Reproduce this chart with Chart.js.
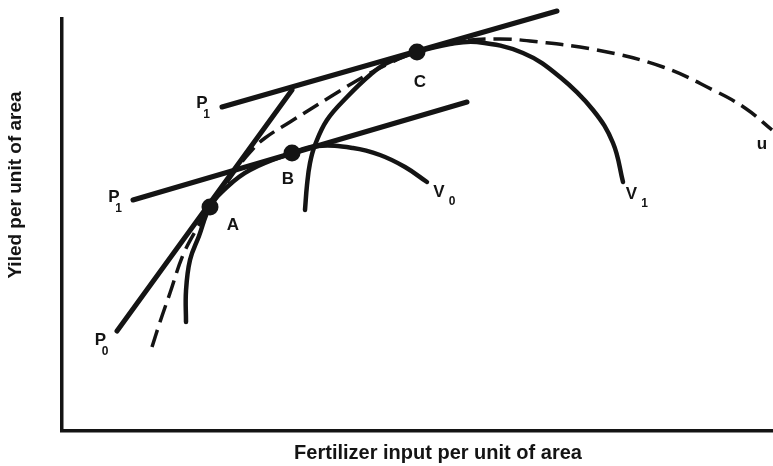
<!DOCTYPE html>
<html>
<head>
<meta charset="utf-8">
<script src="https://cdn.jsdelivr.net/npm/chart.js@4.4.1/dist/chart.umd.min.js"></script>
<style>
  html, body { margin: 0; padding: 0; background: #fff; }
  #wrap { width: 773px; height: 466px; }
</style>
</head>
<body>
<div id="wrap"><canvas id="chart" width="773" height="466"></canvas></div>
<script>
// Axis titles
const xAxisTitle = 'Fertilizer input per unit of area';
const yAxisTitle = 'Yiled per unit of area';

// Plot range (fertilizer input, yield) in arbitrary units
const xRange = [0, 711];
const yRange = [0, 412];

// Yield response curves [input, yield]
const curveV0 = [[124,109],[124,140],[128,171],[137,195],[148,224],[165,244],[188,261],[230,278],
                 [255,285],[291,283],[318,276],[343,264],[365,249]];
const curveV1 = [[243,221],[245,246],[248,268],[253,286],[265,311],[285,334],[308,356],[325,368],
                 [355,379],[388,387],[415,389],[461,378],[498,354],[531,321],[551,288],[561,249]];
// Envelope of optimal points
const curveU = [[90,84],[98,109],[108,138],[121,176],[134,201],[148,224],[162,244],[176,264],
                [190,281],[203,293],[228,309],[268,334],[301,354],[328,368],[355,379],[401,390],
                [438,392],[468,390],[535,381],[601,364],[651,341],[683,323],[710,301]];

// Price ratio lines [start, end]
const lineP0 = [[55,100],[230,341]];
const lineP1Low = [[71,231],[405,329]];
const lineP1High = [[160,324],[495,420]];

// Optimal points A, B, C
const optimumPoints = [[148,224],[230,278],[355,379]];

// Text labels at their anchor (input, yield), with optional subscript
const curveLabels = [
  { text: 'A', sub: '',  x: 171,   y: 206 },
  { text: 'B', sub: '',  x: 226,   y: 252 },
  { text: 'C', sub: '',  x: 358,   y: 349 },
  { text: 'V', sub: '0', x: 377,   y: 238.5 },
  { text: 'V', sub: '1', x: 569.5, y: 237 },
  { text: 'u', sub: '',  x: 700,   y: 287 },
  { text: 'P', sub: '0', x: 38.5,  y: 90.5 },
  { text: 'P', sub: '1', x: 140,   y: 328 },
  { text: 'P', sub: '1', x: 52,    y: 234 }
];

const INK = '#141414';
const FONT = '"Liberation Sans", Arial, Helvetica, sans-serif';
const toXY = arr => arr.map(([x, y]) => ({ x, y }));

function lineSet(points, width, dash) {
  return {
    data: toXY(points),
    showLine: true,
    borderColor: INK,
    borderWidth: width,
    borderDash: dash || [],
    borderCapStyle: dash ? 'butt' : 'round',
    borderJoinStyle: 'round',
    pointRadius: 0,
    tension: 0.4,
    clip: false,
    fill: false
  };
}

// Draws the point/curve labels and the axis titles
const labelPlugin = {
  id: 'curveLabels',
  afterDatasetsDraw(chart) {
    const { ctx, scales: { x, y } } = chart;
    ctx.save();
    ctx.fillStyle = INK;
    ctx.textAlign = 'center';
    ctx.textBaseline = 'middle';
    curveLabels.forEach(l => {
      const px = x.getPixelForValue(l.x);
      const py = y.getPixelForValue(l.y);
      ctx.font = 'bold 17px ' + FONT;
      ctx.fillText(l.text, px, py);
      if (l.sub) {
        const off = l.text === 'V' ? [13, 9.5] : [4.5, 11.5];
        ctx.font = 'bold 12px ' + FONT;
        ctx.fillText(l.sub, px + off[0], py + off[1]);
      }
    });
    // axis titles
    ctx.font = 'bold 20px ' + FONT;
    ctx.fillText(xAxisTitle, 438, 453);
    ctx.save();
    ctx.translate(16, 185);
    ctx.rotate(-Math.PI / 2);
    ctx.font = 'bold 19px ' + FONT;
    ctx.fillText(yAxisTitle, 0, 0);
    ctx.restore();
    ctx.restore();
  }
};

const axisCommon = {
  type: 'linear',
  grid: { display: false },
  ticks: { display: false },
  border: { display: true, width: 3.5, color: INK }
};

new Chart(document.getElementById('chart'), {
  type: 'scatter',
  data: {
    datasets: [
      {
        data: toXY(optimumPoints),
        showLine: false,
        pointRadius: 8.5,
        pointBackgroundColor: INK,
        pointBorderColor: INK,
        pointBorderWidth: 0,
        clip: false
      },
      lineSet(lineP0, 5),
      lineSet(lineP1High, 5),
      lineSet(lineP1Low, 5),
      lineSet(curveV0, 4.5),
      lineSet(curveV1, 4.5),
      lineSet(curveU, 3.5, [18, 8])
    ]
  },
  options: {
    responsive: false,
    animation: false,
    devicePixelRatio: 1,
    layout: { autoPadding: false, padding: { top: 19, right: 0, bottom: 0, left: 0 } },
    plugins: {
      legend: { display: false },
      tooltip: { enabled: false },
      title: { display: false }
    },
    scales: {
      x: Object.assign({}, axisCommon, {
        min: xRange[0], max: xRange[1],
        afterFit(s) { s.height = 35; }
      }),
      y: Object.assign({}, axisCommon, {
        min: yRange[0], max: yRange[1],
        afterFit(s) { s.width = 62; }
      })
    }
  },
  plugins: [labelPlugin]
});
</script>
</body>
</html>
